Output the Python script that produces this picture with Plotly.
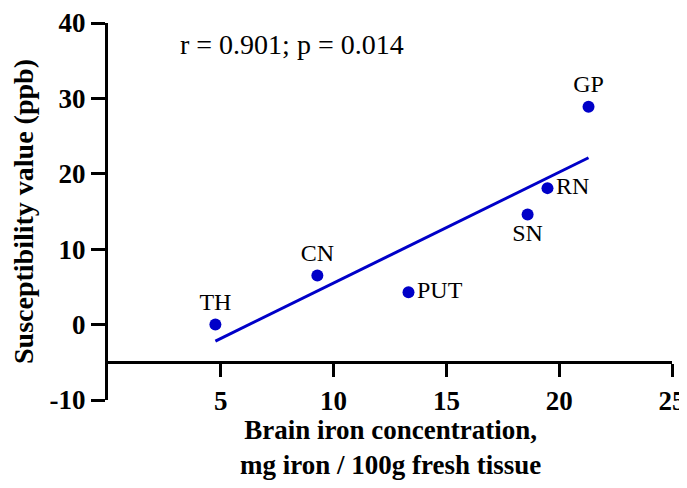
import numpy as np
import plotly.graph_objects as go

regions = ["TH", "CN", "PUT", "SN", "RN", "GP"]
iron = [4.76, 9.28, 13.32, 18.6, 19.48, 21.3]
suscept = [0.0, 6.5, 4.3, 14.6, 18.1, 28.9]
label_pos = ["top center", "top center", "middle right", "bottom center", "middle right", "top center"]

x_ticks = [5, 10, 15, 20, 25]
y_ticks = [-10, 0, 10, 20, 30, 40]
y_ticktext = ["-10", "0", "10", "20", "30", "40"]
stats_text = "r = 0.901; p = 0.014"
x_title = "<b>Brain iron concentration,<br>mg iron / 100g fresh tissue</b>"
y_title = "<b>Susceptibility value (ppb)</b>"

slope, intercept = np.polyfit(iron, suscept, 1)
fit_x = [min(iron), max(iron)]
fit_y = [slope * v + intercept for v in fit_x]

BLUE = "#0000C8"
SERIF = "Liberation Serif, Times New Roman, serif"

fig = go.Figure()
fig.add_trace(go.Scatter(x=fit_x, y=fit_y, mode="lines",
                         line=dict(color=BLUE, width=3), hoverinfo="skip"))
fig.add_trace(go.Scatter(x=iron, y=suscept, mode="markers+text", text=regions,
                         textposition=label_pos,
                         textfont=dict(family=SERIF, size=24, color="black"),
                         marker=dict(color=BLUE, size=12)))

fig.add_annotation(x=3.1, y=37.2, xref="x", yref="y", text=stats_text,
                   showarrow=False, xanchor="left", yanchor="middle",
                   font=dict(family=SERIF, size=28, color="black"))

fig.add_annotation(x=0.5, y=-0.036, xref="paper", yref="paper", text=x_title,
                   showarrow=False, xanchor="center", yanchor="top", borderpad=0,
                   font=dict(family=SERIF, size=27, color="black"))

# page body has an 8px default margin, so the figure is sized/offset to compensate
fig.update_layout(
    width=679, height=480,
    margin=dict(l=100, r=15, t=15, b=88),
    paper_bgcolor="white", plot_bgcolor="white",
    showlegend=False,
    font=dict(family=SERIF, color="black"),
    xaxis=dict(range=[0, 25], tickvals=x_ticks, showgrid=False, zeroline=False,
               automargin=False,
               showline=True, linecolor="black", linewidth=3,
               ticks="outside", ticklen=13, tickwidth=3, tickcolor="black",
               anchor="free", position=0.1,
               tickfont=dict(family=SERIF, size=27, color="black", weight="bold")),
    yaxis=dict(range=[-10, 40], tickvals=y_ticks, ticktext=y_ticktext,
               showgrid=False, zeroline=False, automargin=False,
               showline=True, linecolor="black", linewidth=3,
               ticks="outside", ticklen=14, tickwidth=3, tickcolor="black",
               tickfont=dict(family=SERIF, size=27, color="black", weight="bold"),
               title=dict(text=y_title,
                          font=dict(family=SERIF, size=28, color="black"), standoff=10)),
)

fig.write_html("out.html")
